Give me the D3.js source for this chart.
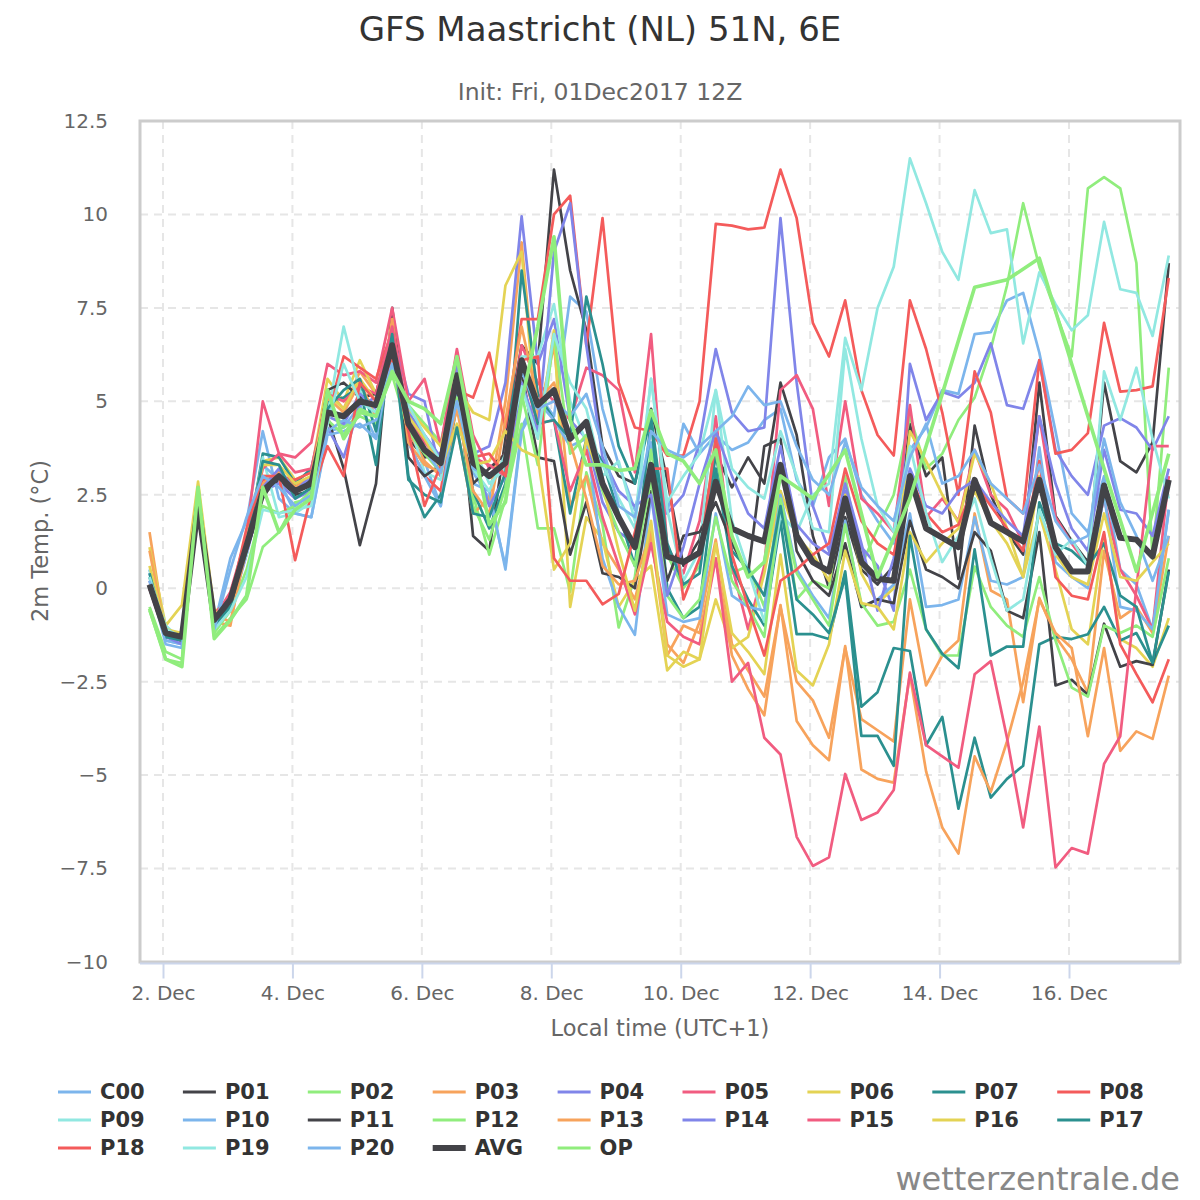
<!DOCTYPE html>
<html>
<head>
<meta charset="utf-8">
<script src="https://cdn.jsdelivr.net/npm/d3@7"></script>
<style>
    body { margin: 0; background: #fff; }
    svg { display: block; font-family: "DejaVu Sans", sans-serif; }
</style>
</head>
<body>
<div id="chart"></div>
<script>
// 2m temperature, GFS ensemble, one value every 6 hours (local time UTC+1)
const c00 = [0.5,-1.4,-1.5,2.4,-1.0,0.8,1.8,4.2,2.4,2.0,1.9,4.2,4.3,4.9,4.0,6.8,
    4.5,3.4,2.2,5.5,3.1,2.4,0.6,4.3,5.2,4.6,7.8,7.4,4.8,3.3,2.1,3.9,
    2.0,4.4,3.6,4.1,3.7,3.9,4.5,4.8,2.9,2.2,3.5,4.0,2.5,1.8,1.2,3.7,
    4.3,5.3,5.2,6.8,6.85,7.7,7.9,6.3,4.2,2.0,1.5,3.0,0.5,0.1,-1.1,2.1]
const p01 = [0.0,-1.2,-1.3,2.1,-0.8,-0.4,1.2,2.5,2.9,2.5,2.6,4.6,3.2,1.15,2.8,7.5,
    4.0,3.5,3.6,5.8,1.4,1.0,4.0,6.5,6.0,11.2,8.5,6.9,3.8,3.0,2.8,4.8,
    2.9,0.6,1.3,3.6,2.7,3.5,2.8,5.5,4.1,1.4,0.0,1.9,0.5,0.1,0.6,4.4,
    3.0,3.5,0.25,4.35,2.5,1.5,0.9,5.5,1.93,1.27,0.7,5.5,3.4,3.1,3.9,8.7]
const p02 = [-0.6,-1.9,-2.0,2.6,-1.3,-0.8,-0.3,1.1,1.5,2.3,2.4,5.0,4.3,4.6,4.4,5.9,
    4.9,4.4,3.9,5.8,2.5,0.9,2.4,4.4,1.6,1.6,-0.1,3.1,1.7,-1.05,0.3,3.7,
    0.9,0.0,0.6,4.1,0.4,0.6,-0.5,2.6,-0.3,0.2,0.0,3.0,0.6,1.6,2.5,4.6,
    3.2,3.6,4.5,5.1,6.4,8.1,10.3,8.6,7.4,6.2,10.7,11.0,10.7,8.7,0.8,5.9]
const p03 = [1.5,-1.3,-1.4,2.5,-0.9,-1.0,1.3,3.0,3.0,2.8,2.9,5.3,4.8,5.8,5.2,6.9,
    4.2,3.4,3.0,4.3,2.0,2.4,5.0,9.25,4.5,6.5,2.2,3.0,1.2,0.5,-0.3,1.4,
    -1.5,-2.0,-0.9,1.3,-1.5,-2.2,-2.9,-0.5,-2.5,-3.0,-4.0,-1.6,-3.5,-3.8,-4.1,-0.3,
    -2.6,-1.8,-1.4,2.0,-0.06,-0.3,-3.05,-0.26,-1.3,-1.9,-2.8,1.0,-0.8,-0.5,-1.2,1.4]
const p04 = [0.0,-1.3,-1.4,2.0,-1.0,-0.6,0.9,2.6,2.8,2.4,2.6,4.3,3.5,4.9,5.1,6.8,
    5.2,5.0,3.0,6.2,3.6,3.8,5.5,9.95,6.0,7.2,4.5,4.0,2.3,1.5,1.2,3.2,
    2.0,2.5,3.9,6.4,4.7,4.2,4.3,9.9,5.5,2.2,1.0,2.6,1.1,0.6,-0.6,6.0,
    4.5,5.25,5.1,5.5,6.55,4.9,4.8,6.1,3.7,3.0,2.5,4.35,4.55,4.3,3.7,4.6]
const p05 = [0.0,-1.3,-1.4,2.3,-0.8,-0.1,1.4,5.0,3.6,3.5,3.9,6.0,5.7,5.8,5.5,7.5,
    5.0,5.6,3.8,6.4,4.1,3.2,3.6,6.5,5.5,5.0,4.5,5.9,5.7,5.3,3.1,6.8,
    1.1,0.4,1.8,4.6,0.6,-1.1,0.6,5.3,5.7,4.8,2.2,5.0,2.4,2.0,1.5,4.9,
    1.9,2.4,1.8,3.7,2.5,2.1,1.2,4.6,1.9,1.2,0.6,2.4,0.5,-0.2,-1.1,3.0]
const p06 = [1.1,-1.0,-0.45,2.85,-0.6,-0.5,1.4,3.4,3.5,2.9,3.1,5.6,5.0,6.1,5.2,6.4,
    4.8,4.3,3.8,5.4,4.7,4.5,8.1,9.0,4.0,6.9,-0.5,1.9,1.3,-0.5,0.2,0.6,
    -2.2,-1.7,-1.9,-0.3,-1.6,-1.3,0.4,2.6,1.4,0.9,0.2,2.5,0.4,-0.4,0.0,4.2,
    3.4,2.5,1.75,3.6,2.8,1.6,0.3,2.0,0.5,-1.1,-1.5,1.43,-1.36,-1.6,-2.1,-0.8]
const p07 = [0.3,-1.2,-1.3,2.2,-0.9,-0.4,1.0,3.6,3.5,2.8,3.2,5.0,5.1,5.4,3.3,7.0,
    3.0,1.9,2.5,4.9,2.6,1.6,2.8,8.5,5.2,4.5,2.0,4.0,3.4,2.0,0.6,4.5,
    0.0,-0.8,-0.5,3.2,0.6,-0.3,-1.0,1.8,-1.23,-1.23,-1.36,0.45,-3.17,-2.78,-1.6,-1.68,
    -4.2,-3.44,-5.9,-4.0,-5.6,-5.1,-4.75,-1.5,-1.3,-1.36,-1.23,-0.5,-1.4,-1.2,-2.0,-1.0]
const p08 = [0.0,-1.3,-1.4,2.2,-0.7,-0.2,1.2,2.9,3.0,2.9,3.1,4.6,6.2,5.9,5.6,6.9,
    3.9,3.0,2.6,5.3,5.1,6.3,4.3,7.2,7.2,10.0,10.5,6.5,9.9,5.5,4.3,4.2,
    3.55,3.55,5.0,9.75,9.7,9.6,9.65,11.2,9.9,7.1,6.2,7.7,5.3,4.1,3.55,7.7,
    6.4,4.7,2.5,5.8,4.7,2.4,2.0,6.1,3.6,3.7,4.15,7.1,5.26,5.3,5.4,8.3]
const p09 = [0.5,-1.0,-1.4,2.3,-0.8,-0.3,0.9,3.5,1.9,2.0,2.3,4.6,7.0,5.3,4.6,6.0,
    4.5,3.1,2.9,5.5,3.8,2.8,3.2,6.2,6.2,7.6,5.0,3.9,3.3,2.4,1.6,5.6,
    2.1,0.2,1.0,5.3,1.8,0.5,-0.9,2.0,1.5,2.5,2.8,6.7,5.3,7.5,8.6,11.5,
    10.3,9.0,8.25,10.65,9.5,9.6,6.55,8.45,7.6,6.9,7.3,9.8,8.0,7.9,6.75,8.9]
const p10 = [0.4,-1.4,-1.5,2.3,-1.0,-0.3,1.5,3.3,2.9,2.0,1.9,4.1,4.2,4.4,4.0,6.3,
    3.9,3.0,2.2,5.2,2.8,2.6,0.5,4.2,5.0,4.5,3.8,4.0,0.8,-0.5,-1.25,2.5,
    -0.7,-0.9,-0.8,2.0,-0.2,-0.5,-0.6,2.5,0.5,-0.2,-0.8,1.8,-0.5,-0.3,0.1,2.0,
    -0.5,-0.45,-0.3,1.9,0.2,0.1,0.3,3.77,0.7,0.3,0.0,2.5,-0.5,-0.6,-1.1,2.1]
const p11 = [0.1,-1.3,-1.4,2.0,-0.9,-0.5,1.0,2.4,3.1,2.7,2.9,5.3,5.5,5.1,5.2,6.9,
    3.5,3.0,3.3,5.4,2.8,3.2,3.6,5.8,3.5,3.4,0.9,2.3,0.4,0.3,0.0,2.6,
    0.2,1.4,1.5,2.3,1.2,0.4,3.8,4.0,1.0,0.2,-0.2,1.2,-0.5,-0.3,-0.4,1.8,
    0.5,0.3,0.0,1.5,1.0,-0.6,-0.8,1.5,-2.6,-2.45,-2.85,-0.95,-2.1,-1.95,-2.05,0.5]
const p12 = [-0.5,-1.7,-1.9,2.7,-1.2,-0.6,0.5,2.2,2.0,2.2,2.6,4.5,4.1,4.8,4.6,5.7,
    4.2,3.6,3.1,5.1,2.2,1.3,2.7,5.2,3.3,6.8,3.6,4.1,2.6,1.5,0.6,2.9,
    -0.2,-0.8,-0.3,1.9,0.2,-0.5,-1.3,2.4,0.4,-0.3,-1.0,1.7,-0.4,-1.0,-0.9,0.5,
    -1.1,-1.8,-1.8,0.58,-0.5,-1.0,-1.3,0.3,-1.4,-2.66,-2.9,-1.0,-1.2,-1.0,-1.3,0.8]
const p13 = [1.0,-1.2,-1.4,2.3,-0.7,-0.9,1.1,2.8,3.1,2.7,3.0,5.1,4.7,5.5,4.6,7.2,
    3.9,3.3,3.1,4.8,2.6,2.0,4.5,7.0,5.0,5.5,3.9,2.4,0.6,0.1,0.2,1.5,
    -1.8,-1.0,-1.2,0.8,-1.8,-2.7,-3.4,-0.45,-3.55,-4.2,-4.6,-1.55,-4.85,-5.1,-5.2,-2.3,
    -4.9,-6.4,-7.1,-4.5,-5.45,-4.1,-2.5,-0.3,-1.2,-1.6,-3.96,-1.6,-4.35,-3.83,-4.03,-2.34]
const p14 = [0.2,-1.3,-1.5,2.2,-0.9,-0.2,1.2,2.7,3.2,2.6,3.0,4.6,4.4,5.2,4.8,6.6,
    4.7,4.1,3.5,6.0,3.5,2.2,3.0,5.5,4.2,9.0,10.3,6.5,3.5,2.6,2.2,2.5,
    -0.2,1.1,2.8,4.2,3.0,2.0,1.6,3.8,1.7,1.2,0.9,2.8,1.2,-0.6,0.8,3.2,
    2.2,2.0,2.6,2.9,2.3,1.8,1.4,4.6,2.8,1.6,1.0,3.7,2.1,2.0,1.4,3.2]
const p15 = [0.0,-1.2,-1.3,2.1,-0.7,-0.2,1.3,3.2,3.6,3.1,3.2,5.2,5.0,5.4,5.2,7.0,
    4.6,3.9,3.4,6.3,3.5,3.3,3.0,5.9,4.4,4.5,2.6,3.7,1.9,0.6,-0.7,1.2,
    -0.9,-1.3,-1.5,0.8,-2.5,-2.0,-4.0,-4.45,-6.65,-7.43,-7.2,-4.97,-6.2,-6.0,-5.4,-2.26,
    -4.2,-4.5,-4.8,-2.3,-1.95,-4.0,-6.4,-3.7,-7.47,-6.95,-7.1,-4.7,-3.96,0.0,3.8,3.8]
const p16 = [0.6,-1.1,-1.2,2.4,-0.7,-0.4,1.3,3.3,3.3,2.8,3.0,5.2,4.8,5.6,5.0,6.3,
    4.6,4.0,3.2,4.4,3.3,3.4,4.2,3.7,3.5,0.5,1.2,4.0,2.8,1.0,-0.6,1.8,
    -1.8,-2.1,-1.9,1.2,-1.2,-1.7,-2.3,0.9,-2.2,-2.6,-1.5,1.0,-0.4,-0.5,-1.1,1.5,
    0.7,1.2,1.6,2.6,1.8,1.2,0.3,3.0,0.9,0.3,0.1,2.0,0.3,0.2,0.7,1.2]
const p17 = [0.4,-1.3,-1.4,2.3,-1.0,-0.5,1.2,3.4,3.3,2.4,2.7,4.8,5.3,5.6,4.2,6.8,
    2.9,2.5,2.3,4.3,2.0,1.9,3.1,6.0,4.4,4.5,4.0,7.8,6.0,3.8,2.8,4.6,
    1.2,0.1,0.4,3.6,1.0,0.5,-0.2,2.2,-0.3,-0.7,-1.2,0.3,-3.95,-3.95,-4.75,1.4,
    -1.1,-1.75,-2.14,1.04,-1.8,-1.56,-1.56,2.3,1.2,1.0,0.6,1.2,-0.2,-0.5,-2.0,0.45]
const p18 = [0.1,-1.2,-1.3,2.3,-0.8,-0.3,1.6,3.0,3.0,0.75,2.5,3.8,3.0,5.5,5.0,6.2,
    4.2,2.2,3.3,5.6,3.5,3.6,3.0,6.1,6.2,0.8,0.2,0.2,-0.43,-0.15,1.5,3.2,
    3.2,-0.3,0.8,4.0,0.9,-0.5,-1.8,0.2,0.5,0.9,1.2,3.2,1.8,1.2,0.9,3.0,
    2.0,1.5,1.7,2.8,2.2,1.6,1.0,3.4,0.3,-0.2,-0.3,1.5,-1.5,-2.3,-3.05,-1.9]
const p19 = [0.3,-1.1,-1.3,2.4,-1.1,-0.6,0.3,2.1,2.0,2.1,2.2,4.4,6.0,5.0,4.7,5.9,
    4.9,4.1,3.4,5.0,3.2,2.6,3.6,5.4,4.0,6.8,5.5,4.8,3.0,3.4,1.8,5.6,
    2.3,3.0,3.6,5.3,3.2,2.7,2.4,4.2,3.0,1.6,1.5,6.4,4.0,2.2,1.5,3.8,
    2.0,0.7,1.4,2.4,0.8,-0.6,-0.3,2.1,0.9,1.3,0.6,5.8,4.5,5.9,4.0,2.4]
const p20 = [0.2,-1.5,-1.6,2.1,-1.1,0.5,1.9,3.0,2.7,2.2,2.5,4.2,4.5,4.3,4.5,6.0,
    4.5,3.7,3.1,5.0,3.2,3.0,3.4,5.8,4.8,5.0,4.6,5.2,3.8,2.2,1.9,4.2,
    3.7,3.5,3.8,4.2,4.6,5.4,4.9,5.0,3.8,2.9,2.5,3.9,2.7,2.2,1.8,3.5,
    4.4,2.8,3.0,3.7,2.8,2.4,2.0,3.3,1.8,1.2,1.4,4.0,2.3,1.4,0.2,1.4]
const avg = [0.1,-1.2,-1.3,2.2,-0.85,-0.3,1.15,2.6,3.0,2.6,2.8,4.7,4.6,5.0,4.9,6.5,
    4.4,3.7,3.35,5.7,3.35,3.0,3.35,6.1,4.9,5.3,4.0,4.45,2.8,1.9,1.1,3.3,
    0.85,0.7,0.95,2.85,1.6,1.4,1.25,3.3,1.4,0.7,0.45,2.4,0.7,0.25,0.2,3.0,
    1.6,1.35,1.1,2.9,1.75,1.5,1.25,2.9,1.1,0.45,0.45,2.75,1.35,1.3,0.85,2.9]
// operational run is only 12-hourly after day 10
const op = [-0.55,-1.9,-2.1,2.7,-1.35,-0.85,-0.2,2.7,1.5,2.1,2.4,5.3,4.0,4.7,4.6,5.8,
    5.0,4.8,4.4,6.2,3.9,1.7,2.3,5.0,7.0,9.4,4.5,3.3,3.3,3.15,3.2,4.75,
    3.6,3.4,2.8,3.7,1.4,0.3,0.7,3.0,null,2.4,null,3.7,null,0.3,null,2.4,
    null,5.2,null,8.05,null,8.25,null,8.83,null,6.0,null,3.2,null,0.45,null,3.6]

const seriesNames = ['C00','P01','P02','P03','P04','P05','P06','P07','P08','P09','P10',
    'P11','P12','P13','P14','P15','P16','P17','P18','P19','P20','AVG','OP']
const seriesValues = [c00,p01,p02,p03,p04,p05,p06,p07,p08,p09,p10,
    p11,p12,p13,p14,p15,p16,p17,p18,p19,p20,avg,op]
const palette = ['#7cb5ec','#434348','#90ed7d','#f7a35c','#8085e9','#f15c80','#e4d354','#2b908f','#f45b5b','#91e8e1']
const firstPoint = Date.UTC(2017, 11, 1, 19)
const stepHours = 6
const yTicks = [-10, -7.5, -5, -2.5, 0, 2.5, 5, 7.5, 10, 12.5]
const xTickDays = [2, 4, 6, 8, 10, 12, 14, 16]

const width = 1200, height = 1200
const plot = { left: 140, right: 1180, top: 121, bottom: 962 }

const svg = d3.select('#chart').append('svg').attr('width', width).attr('height', height)

const x = d3.scaleUtc().domain([Date.UTC(2017, 11, 2), Date.UTC(2017, 11, 16)]).range([163, 1069])
const y = d3.scaleLinear().domain([-10, 12.5]).range([plot.bottom, plot.top])

svg.append('text').attr('x', 600).attr('y', 29).attr('text-anchor', 'middle').
    attr('dominant-baseline', 'central').attr('font-size', 34).attr('fill', '#333').
    text('GFS Maastricht (NL) 51N, 6E')
svg.append('text').attr('x', 600).attr('y', 92).attr('text-anchor', 'middle').
    attr('dominant-baseline', 'central').attr('font-size', 23.5).attr('fill', '#666').
    text('Init: Fri, 01Dec2017 12Z')

// grid
const grid = svg.append('g').attr('stroke', '#e6e6e6').attr('stroke-width', 2).attr('stroke-dasharray', '8,6')
grid.selectAll('line.h').data(yTicks).enter().append('line').
    attr('x1', plot.left).attr('x2', plot.right).
    attr('y1', (d) => y(d)).attr('y2', (d) => y(d))
const tickDates = xTickDays.map((d) => new Date(Date.UTC(2017, 11, d)))
grid.selectAll('line.v').data(tickDates).enter().append('line').
    attr('x1', (d) => x(d)).attr('x2', (d) => x(d)).
    attr('y1', plot.top).attr('y2', plot.bottom)

// series
svg.append('clipPath').attr('id', 'clip').append('rect').
    attr('x', plot.left).attr('y', plot.top).attr('width', plot.right - plot.left).attr('height', plot.bottom - plot.top)
const line = d3.line().x((p) => x(p.t)).y((p) => y(p.v))
const lines = svg.append('g').attr('clip-path', 'url(#clip)')
seriesNames.forEach(function (name, k) {
    const pts = seriesValues[k].map((v, i) => ({ t: firstPoint + i * stepHours * 3600e3, v: v })).filter((p) => p.v !== null)
    lines.append('path').attr('d', line(pts)).attr('fill', 'none').
        attr('stroke', name === 'AVG' ? '#434348' : name === 'OP' ? '#90ed7d' : palette[k % 10]).
        attr('stroke-width', name === 'AVG' ? 6 : name === 'OP' ? 3.6 : 2.7).
        attr('stroke-linejoin', 'round')
})

// frame
svg.append('rect').attr('x', plot.left).attr('y', plot.top).
    attr('width', plot.right - plot.left).attr('height', plot.bottom - plot.top).
    attr('fill', 'none').attr('stroke', '#cccccc').attr('stroke-width', 3)

// axes
const xAxis = svg.append('g').attr('transform', `translate(0,${plot.bottom + 1.5})`).
    call(d3.axisBottom(x).tickValues(tickDates).tickFormat(d3.utcFormat('%-d. %b')).tickSize(15).tickPadding(7))
xAxis.select('.domain').attr('stroke', '#ccd6eb').attr('stroke-width', 2).attr('d', `M${plot.left},0H${plot.right}`)
xAxis.selectAll('.tick line').attr('stroke', '#ccd6eb').attr('stroke-width', 2)
xAxis.selectAll('.tick text').attr('fill', '#666').attr('font-size', 20).attr('font-family', '"DejaVu Sans", sans-serif')

const yAxis = svg.append('g').attr('transform', `translate(${plot.left},0)`).
    call(d3.axisLeft(y).tickValues(yTicks).tickFormat(d3.format('~f')).tickSize(0).tickPadding(32))
yAxis.select('.domain').remove()
yAxis.selectAll('.tick text').attr('fill', '#666').attr('font-size', 20).attr('font-family', '"DejaVu Sans", sans-serif')

svg.append('text').attr('transform', 'translate(40,541) rotate(-90)').attr('text-anchor', 'middle').
    attr('dominant-baseline', 'central').attr('font-size', 22.5).attr('fill', '#666').text('2m Temp. (°C)')
svg.append('text').attr('x', 660).attr('y', 1028).attr('text-anchor', 'middle').
    attr('dominant-baseline', 'central').attr('font-size', 22.5).attr('fill', '#666').text('Local time (UTC+1)')

// legend
const legend = svg.append('g')
seriesNames.forEach(function (name, k) {
    const lx = 58 + (k % 9) * 124.9, ly = 1092 + Math.floor(k / 9) * 28
    legend.append('line').attr('x1', lx).attr('x2', lx + 33).attr('y1', ly).attr('y2', ly).
        attr('stroke', name === 'AVG' ? '#434348' : name === 'OP' ? '#90ed7d' : palette[k % 10]).
        attr('stroke-width', name === 'AVG' ? 6 : 3)
    legend.append('text').attr('x', lx + 42).attr('y', ly).attr('dominant-baseline', 'central').
        attr('font-size', 21).attr('font-weight', 'bold').attr('fill', '#333').text(name)
})

svg.append('text').attr('x', 1180).attr('y', 1190).attr('text-anchor', 'end').
    attr('font-size', 32).attr('fill', '#888').text('wetterzentrale.de')
</script>
</body>
</html>
